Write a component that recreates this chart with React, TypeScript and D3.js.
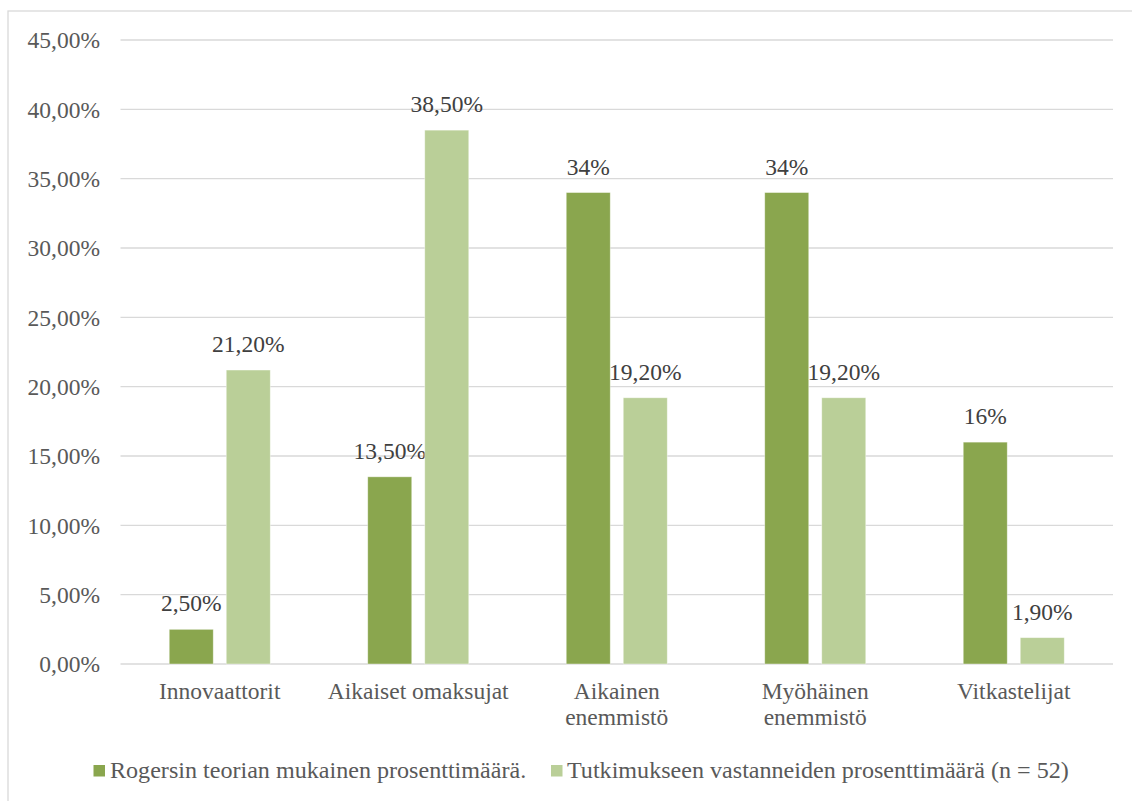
import React from "react";
import * as d3 from "d3";

const categories: string[][] = [
  ["Innovaattorit"],
  ["Aikaiset omaksujat"],
  ["Aikainen", "enemmistö"],
  ["Myöhäinen", "enemmistö"],
  ["Vitkastelijat"],
];
const seriesNames = [
  "Rogersin teorian mukainen prosenttimäärä.",
  "Tutkimukseen vastanneiden prosenttimäärä (n = 52)",
];
const rogersValues = [0.025, 0.135, 0.34, 0.34, 0.16];
const surveyValues = [0.212, 0.385, 0.192, 0.192, 0.019];
const rogersLabels = ["2,50%", "13,50%", "34%", "34%", "16%"];
const surveyLabels = ["21,20%", "38,50%", "19,20%", "19,20%", "1,90%"];
const yTicks = [0, 0.05, 0.1, 0.15, 0.2, 0.25, 0.3, 0.35, 0.4, 0.45];
const colors = ["#8aa64e", "#bacf98"];

const FONT = "'Liberation Serif', 'Times New Roman', Times, serif";
const TEXT = "#595959";

export default function App() {
  const W = 1132;
  const H = 801;
  const left = 120.5;
  const right = 1113;
  const top = 40;
  const bottom = 664;

  const catKeys = categories.map((c) => c.join(" "));
  const x0 = d3.scaleBand<string>().domain(catKeys).range([left, right]).padding(0);
  const bw = x0.bandwidth();
  const groupW = bw * 0.509;
  const x1 = d3
    .scaleBand<string>()
    .domain(seriesNames)
    .range([(bw - groupW) / 2, (bw + groupW) / 2])
    .paddingInner(0.228);
  const y = d3.scaleLinear().domain([0, 0.45]).range([bottom, top]);
  const fmt = (v: number) => d3.format(".2f")(v * 100).replace(".", ",") + "%";

  const series = [
    { name: seriesNames[0], values: rogersValues, labels: rogersLabels, color: colors[0] },
    { name: seriesNames[1], values: surveyValues, labels: surveyLabels, color: colors[1] },
  ];

  return (
    <svg
      width={W}
      height={H}
      style={{ position: "absolute", left: 0, top: 0, background: "#fff", fontFamily: FONT }}
    >
      <rect x={8} y={11} width={1200} height={900} fill="#fff" stroke="#d9d9d9" strokeWidth={1.3} />
      {yTicks.map((t) => (
        <g key={t}>
          <line x1={left} x2={right} y1={y(t)} y2={y(t)} stroke="#d9d9d9" strokeWidth={1.4} />
          <text x={100} y={y(t)} dy="0.35em" textAnchor="end" fontSize={23.5} fill={TEXT}>
            {fmt(t)}
          </text>
        </g>
      ))}
      {series.map((s) =>
        s.values.map((v, i) => {
          const bx = (x0(catKeys[i]) as number) + (x1(s.name) as number);
          return (
            <g key={s.name + i}>
              <rect
                x={bx}
                y={y(v)}
                width={x1.bandwidth()}
                height={y(0) - y(v)}
                fill={s.color}
                stroke="#ffffff"
                strokeOpacity={0.5}
                strokeWidth={0.8}
              />
              <text
                x={bx + x1.bandwidth() / 2}
                y={y(v) - 18}
                textAnchor="middle"
                fontSize={23.5}
                fill="#404040"
              >
                {s.labels[i]}
              </text>
            </g>
          );
        })
      )}
      {categories.map((lines, i) => (
        <text
          key={i}
          x={(x0(catKeys[i]) as number) + bw / 2}
          y={699}
          textAnchor="middle"
          fontSize={23.5}
          fill={TEXT}
        >
          {lines.map((l, j) => (
            <tspan key={j} x={(x0(catKeys[i]) as number) + bw / 2} dy={j === 0 ? 0 : 26}>
              {l}
            </tspan>
          ))}
        </text>
      ))}
      <g>
        <rect x={93.5} y={765} width={11.5} height={11.5} fill={colors[0]} />
        <text x={110} y={778} fontSize={24.1} fill={TEXT}>
          {seriesNames[0]}
        </text>
        <rect x={551} y={765} width={11.5} height={11.5} fill={colors[1]} />
        <text x={567} y={778} fontSize={24.1} fill={TEXT}>
          {seriesNames[1]}
        </text>
      </g>
    </svg>
  );
}
